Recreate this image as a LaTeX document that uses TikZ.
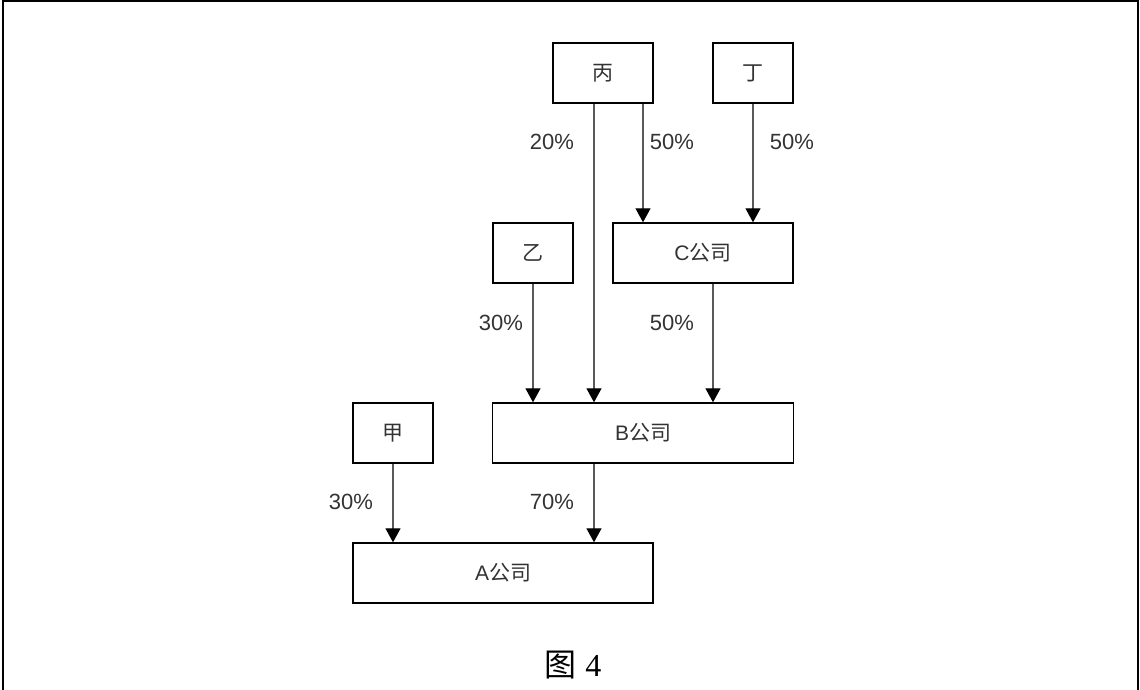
\documentclass[tikz,border=0pt]{standalone}
\usepackage{fontspec}
\setmainfont{Liberation Sans}
\newfontfamily\cjk{Noto Sans CJK SC}
\newfontfamily\capserif{Liberation Serif}
\usetikzlibrary{arrows.meta}
\begin{document}
\begin{tikzpicture}[x=1pt,y=-1pt,
  box/.style={draw=black,line width=1.4pt,inner sep=0pt,minimum height=60pt,
    font=\fontsize{21}{21}\selectfont,text=black!80},
  conn/.style={draw=black!65,line width=1.3pt,-{Triangle[length=14pt,width=15pt,color=black]}},
  pct/.style={font=\fontsize{22}{22}\selectfont,text=black!80,inner sep=0pt}]
\useasboundingbox (0,0) rectangle (1140,690);
\draw[line width=2pt] (2.5,690) -- (2.5,1.5) -- (1138,1.5) -- (1138,690);
% boxes (centre, width)
\node[box,minimum width=100pt] (bing) at (603,73) {\cjk 丙};
\node[box,minimum width=80pt] (ding) at (753,73) {\cjk 丁};
\node[box,minimum width=80pt] (yi) at (533,253) {\cjk 乙};
\node[box,minimum width=180pt] (C) at (703,253) {C{\cjk 公司}};
\node[box,minimum width=80pt] (jia) at (393,433) {\cjk 甲};
\node[box,minimum width=301pt] (B) at (643,433) {B{\cjk 公司}};
\node[box,minimum width=300pt] (A) at (503,573) {A{\cjk 公司}};
% connectors
\draw[conn] (bing.south -| 594,0) -- (B.north -| 594,0);
\draw[conn] (bing.south -| 643,0) -- (C.north -| 643,0);
\draw[conn] (ding.south) -- (C.north -| ding.south);
\draw[conn] (yi.south) -- (B.north -| yi.south);
\draw[conn] (C.south -| 713,0) -- (B.north -| 713,0);
\draw[conn] (jia.south) -- (A.north -| jia.south);
\draw[conn] (B.south -| 594,0) -- (A.north -| 594,0);
% labels
\node[pct] (l1) at (552,142) {20\%};
\node[pct] (l2) at (672,142) {50\%};
\node[pct] (l3) at (792,142) {50\%};
\node[pct] (l4) at (501,323) {30\%};
\node[pct] (l5) at (672,323) {50\%};
\node[pct] (l6) at (351,502) {30\%};
\node[pct] (l7) at (552,502) {70\%};
% caption
\node[inner sep=0pt,font=\fontsize{32}{32}\selectfont] (cap) at (573,665) {{\cjk 图} {\capserif 4}};
\end{tikzpicture}
\end{document}
